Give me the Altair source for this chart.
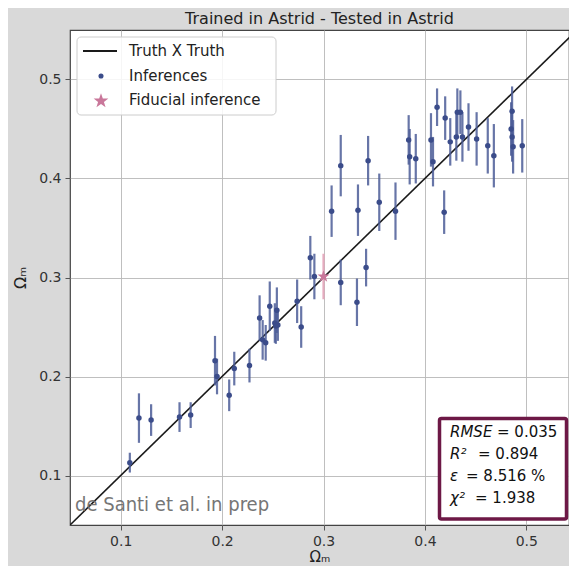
import altair as alt
import pandas as pd

# ---- data ----
x_true = [0.109, 0.118, 0.130, 0.158, 0.169, 0.193, 0.195, 0.207, 0.212, 0.227,
          0.237, 0.240, 0.243, 0.247, 0.252, 0.253, 0.254, 0.255, 0.274, 0.278,
          0.287, 0.291, 0.317, 0.333, 0.342, 0.308, 0.317, 0.334, 0.344, 0.355,
          0.371, 0.384, 0.385, 0.391, 0.406, 0.408, 0.412, 0.419, 0.420, 0.425,
          0.431, 0.432, 0.435, 0.437, 0.443, 0.451, 0.462, 0.468, 0.486, 0.485,
          0.486, 0.487, 0.496]
y_pred = [0.113, 0.158, 0.156, 0.159, 0.161, 0.216, 0.200, 0.181, 0.208, 0.211,
          0.259, 0.237, 0.234, 0.271, 0.254, 0.251, 0.267, 0.252, 0.276, 0.250,
          0.320, 0.301, 0.295, 0.275, 0.310, 0.367, 0.413, 0.368, 0.418, 0.376,
          0.367, 0.439, 0.422, 0.420, 0.439, 0.417, 0.472, 0.366, 0.461, 0.437,
          0.442, 0.467, 0.467, 0.442, 0.452, 0.440, 0.433, 0.423, 0.468, 0.450,
          0.442, 0.432, 0.433]
y_err = [0.010, 0.025, 0.016, 0.015, 0.013, 0.025, 0.018, 0.016, 0.017, 0.017,
         0.023, 0.020, 0.018, 0.025, 0.020, 0.018, 0.023, 0.016, 0.022, 0.021,
         0.022, 0.023, 0.023, 0.024, 0.019, 0.026, 0.031, 0.026, 0.025, 0.029,
         0.029, 0.025, 0.028, 0.025, 0.027, 0.025, 0.019, 0.022, 0.022, 0.024,
         0.024, 0.024, 0.022, 0.025, 0.024, 0.027, 0.028, 0.032, 0.025, 0.027,
         0.025, 0.027, 0.027]

fid_x = [0.300]
fid_y = [0.301]
fid_err = [0.023]

truth_line = [0.05, 0.55]
axis_ticks = [0.1, 0.2, 0.3, 0.4, 0.5]

legend_labels = ["Truth X Truth", "Inferences", "Fiducial inference"]
stats_names = ["RMSE", "R²", "ε", "χ²"]
stats_values = ["= 0.035", "= 0.894", "= 8.516 %", "= 1.938"]
watermark = ["de Santi et al. in prep"]
title_text = "Trained in Astrid - Tested in Astrid"

# ---- styling ----
W, H = 499, 495
X_MAX = 0.05 + 0.5 * W / 507.0   # figure is cropped on the right
FONT = "DejaVu Sans"
BLUE = "#3b4c8a"
BLUE_BAR = "#4c5d98"
PINK = "#c9779a"
PINK_BAR = "#e3a3b8"
STAR = "M0,-1L0.235,-0.324L0.951,-0.309L0.38,0.124L0.588,0.809L0,0.4L-0.588,0.809L-0.38,0.124L-0.951,-0.309L-0.235,-0.324Z"

inf = pd.DataFrame({"x": x_true, "y": y_pred,
                    "lo": [a - e for a, e in zip(y_pred, y_err)],
                    "hi": [a + e for a, e in zip(y_pred, y_err)]})
fid = pd.DataFrame({"x": fid_x, "y": fid_y,
                    "lo": [a - e for a, e in zip(fid_y, fid_err)],
                    "hi": [a + e for a, e in zip(fid_y, fid_err)]})
line_df = pd.DataFrame({"x": truth_line, "y": truth_line})

xs = alt.Scale(domain=[0.05, X_MAX], nice=False, zero=False)
ys = alt.Scale(domain=[0.05, 0.55], nice=False, zero=False)

xax = alt.Axis(values=axis_ticks, format=".1f", title="Ωₘ", titleFontSize=15,
               titleFontWeight="normal", titleFont=FONT, titleColor="#222",
               titlePadding=1)
yax = alt.Axis(values=axis_ticks, format=".1f", title="Ωₘ", titleFontSize=16,
               titleFontWeight="normal", titleFont=FONT, titleColor="#222",
               titlePadding=10)

base_x = alt.X("x:Q", scale=xs, axis=xax)
base_y = alt.Y("y:Q", scale=ys, axis=yax)

diag = alt.Chart(line_df).mark_line(color="#1a1a1a", strokeWidth=1.6, clip=True).encode(
    x=base_x, y=base_y)

bars = alt.Chart(inf).mark_rule(color=BLUE_BAR, strokeWidth=2.2, opacity=0.85, clip=True).encode(
    x=alt.X("x:Q", scale=xs), y=alt.Y("lo:Q", scale=ys), y2="hi:Q")
pts = alt.Chart(inf).mark_circle(color=BLUE, size=30, opacity=1, clip=True).encode(
    x=alt.X("x:Q", scale=xs), y=alt.Y("y:Q", scale=ys))

fbar = alt.Chart(fid).mark_rule(color=PINK_BAR, strokeWidth=2.2, opacity=0.9, clip=True).encode(
    x=alt.X("x:Q", scale=xs), y=alt.Y("lo:Q", scale=ys), y2="hi:Q")
fpt = alt.Chart(fid).mark_point(shape=STAR, filled=True, color=PINK, size=160, opacity=1, clip=True).encode(
    x=alt.X("x:Q", scale=xs), y=alt.Y("y:Q", scale=ys))

# watermark
wm = alt.Chart(pd.DataFrame({"t": watermark})).mark_text(
    font="DejaVu Sans Condensed", fontSize=20, color="#6f6f6f", opacity=0.95,
    align="left", baseline="middle").encode(
    x=alt.value(5), y=alt.value(475), text="t:N")

# legend (drawn manually)
leg_box = alt.Chart(pd.DataFrame({"a": [0]})).mark_rect(
    fill="white", fillOpacity=0.85, stroke="#cccccc", strokeWidth=1, cornerRadius=4).encode(
    x=alt.value(7), x2=alt.value(206), y=alt.value(7), y2=alt.value(85))
leg_line = alt.Chart(pd.DataFrame({"a": [0]})).mark_rule(color="#1a1a1a", strokeWidth=1.8).encode(
    x=alt.value(13), x2=alt.value(47), y=alt.value(21))
leg_dot = alt.Chart(pd.DataFrame({"a": [0]})).mark_circle(color=BLUE, size=26, opacity=1).encode(
    x=alt.value(31), y=alt.value(46))
leg_star = alt.Chart(pd.DataFrame({"a": [0]})).mark_point(
    shape=STAR, filled=True, color=PINK, size=240, opacity=1).encode(
    x=alt.value(31), y=alt.value(71))
leg_df = pd.DataFrame({"t": legend_labels, "py": [21, 46, 70]})
leg_txt = alt.Chart(leg_df).mark_text(font=FONT, fontSize=15, color="#222",
                                      align="left", baseline="middle").encode(
    x=alt.value(59), y=alt.Y("py:Q", scale=None), text="t:N")

# stats box
st_box = alt.Chart(pd.DataFrame({"a": [0]})).mark_rect(
    fill="white", stroke="#6d1846", strokeWidth=3.5, cornerRadius=2).encode(
    x=alt.value(369.5), x2=alt.value(496.5), y=alt.value(388.5), y2=alt.value(489))
st_df = pd.DataFrame({"n": stats_names, "v": stats_values,
                      "py": [402, 424, 446, 468],
                      "vx": [427, 408, 396, 405]})
st_names = alt.Chart(st_df).mark_text(font=FONT, fontSize=15, fontStyle="italic", color="#111",
                                      align="left", baseline="middle").encode(
    x=alt.value(380), y=alt.Y("py:Q", scale=None), text="n:N")
st_vals = alt.Chart(st_df).mark_text(font=FONT, fontSize=15, color="#111",
                                     align="left", baseline="middle").encode(
    x=alt.X("vx:Q", scale=None), y=alt.Y("py:Q", scale=None), text="v:N")

chart = alt.layer(diag, bars, pts, fbar, fpt, wm, leg_box, leg_line, leg_dot, leg_star, leg_txt,
                  st_box, st_names, st_vals).properties(
    width=W, height=H,
    title=alt.TitleParams(title_text, font=FONT, fontSize=16, fontWeight="normal",
                          color="#222", offset=3, anchor="middle"),
    background="#d9d9d9",
    padding={"left": 62, "top": 22, "right": 0, "bottom": 41},
    autosize=alt.AutoSizeParams(type="none"),
).configure_view(
    fill="white", stroke="#444444", strokeWidth=1.2
).configure_axis(
    labelFont=FONT, labelFontSize=14, labelColor="#333", tickColor="#555",
    tickSize=5, labelPadding=4, domain=False, grid=True, gridColor="#b8b8b8",
    gridWidth=0.9
)

chart.save("out.html", embed_options={"renderer": "svg", "actions": False})
